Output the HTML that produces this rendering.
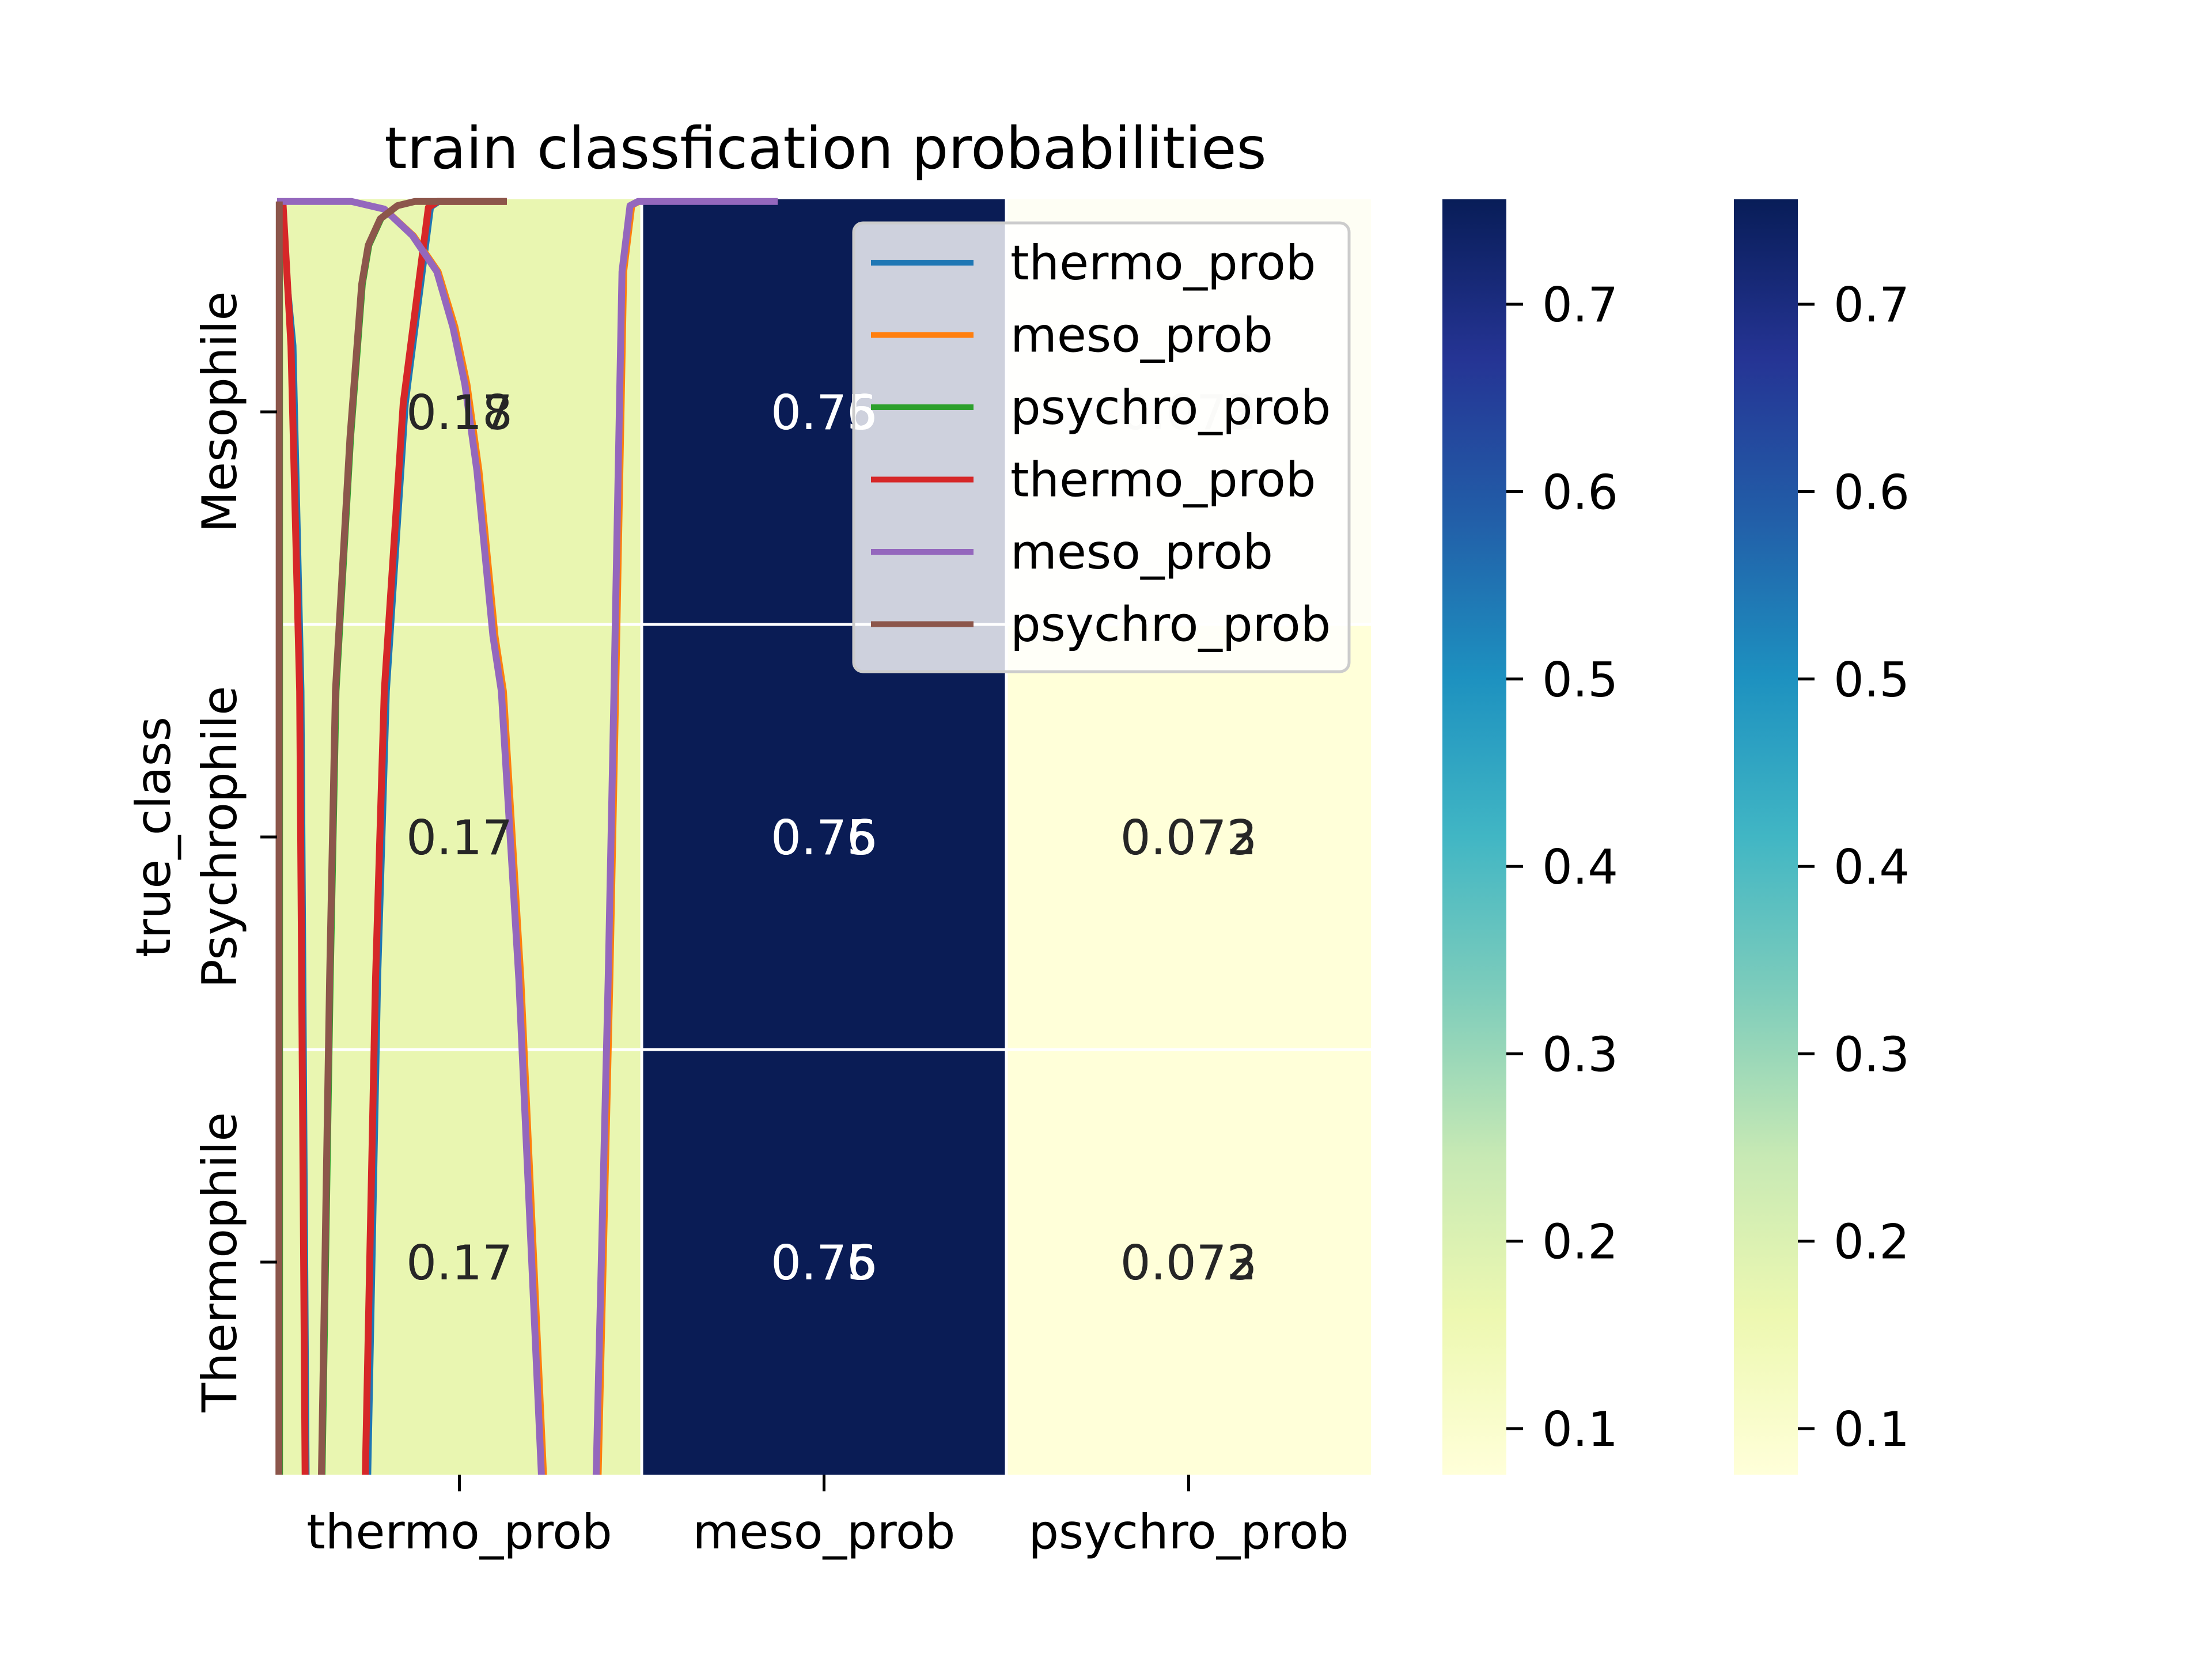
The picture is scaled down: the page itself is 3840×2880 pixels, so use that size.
<!DOCTYPE html>
<html><head><meta charset="utf-8"><style>
html,body{margin:0;padding:0;background:#fff}
svg{display:block;font-family:"DejaVu Sans","Liberation Sans",sans-serif}
</style></head><body>
<svg id="chart" width="3840" height="2880" viewBox="0 0 3840 2880" xmlns="http://www.w3.org/2000/svg">
<defs>
<clipPath id="clipAx"><rect x="470" y="338" width="1930" height="2222"/></clipPath>
<linearGradient id="cbgrad" x1="0" y1="1" x2="0" y2="0"></linearGradient>
</defs>
<rect width="3840" height="2880" fill="#fff"/>
<text x="1433" y="292" font-size="100" text-anchor="middle">train classfication probabilities</text>
<g id="cells"></g>
<g id="lines" clip-path="url(#clipAx)"></g>
<g id="annots"></g>
<g id="axes"></g>
<g id="legend"></g>
<g id="cbars"></g>
</svg>
<script>
// ---- data ----
const rowLabels = ["Mesophile","Psychrophile","Thermophile"];
const colLabels = ["thermo_prob","meso_prob","psychro_prob"];
const cellValuesA = [[0.17,0.75,0.073],[0.17,0.75,0.073],[0.17,0.75,0.073]];
const cellTextA = [["0.17","0.75","0.073"],["0.17","0.75","0.073"],["0.17","0.75","0.073"]];
const cellTextB = [["0.18","0.76","0.072"],["0.17","0.76","0.072"],["0.17","0.76","0.072"]];
const cbTicks = [0.1,0.2,0.3,0.4,0.5,0.6,0.7];
const vmin = 0.0754, vmax = 0.756;
const seriesNames = ["thermo_prob","meso_prob","psychro_prob","thermo_prob","meso_prob","psychro_prob"];
const seriesColors = ["#1f77b4","#ff7f0e","#2ca02c","#d62728","#9467bd","#8c564b"];
// traced line points, x in heatmap column units, y in heatmap row units
const seriesX = [
 [0.012,0.03,0.046,0.068,0.082,0.084,0.245,0.251,0.278,0.302,0.354,0.423,0.447,0.63],
 [0.0,0.204,0.298,0.376,0.444,0.49,0.523,0.556,0.6,0.623,0.671,0.733,0.741,0.875,0.883,0.915,0.931,0.953,0.975,0.997,1.373],
 [0.009,0.009,0.122,0.148,0.164,0.204,0.236,0.254,0.287,0.334,0.382,0.63],
 [0.016,0.038,0.062,0.077,0.079,0.237,0.242,0.27,0.294,0.346,0.415,0.44,0.63],
 [0.0,0.204,0.294,0.371,0.438,0.482,0.515,0.548,0.592,0.615,0.663,0.725,0.733,0.867,0.875,0.908,0.924,0.946,0.968,0.99,1.373],
 [0.006,0.005,0.118,0.144,0.16,0.2,0.232,0.25,0.283,0.33,0.378,0.63]
];
const seriesY = [
 [0.005,0.2,0.344,1.157,3.0,3.19,3.19,3.0,1.835,1.157,0.48,0.019,0.005,0.005],
 [0.005,0.005,0.023,0.085,0.17,0.3,0.435,0.638,1.027,1.157,1.835,3.0,3.19,3.19,3.0,1.835,1.157,0.17,0.015,0.005,0.005],
 [0.005,3.19,3.19,1.835,1.157,0.56,0.2,0.108,0.046,0.015,0.005,0.005],
 [0.005,0.344,1.157,3.0,3.19,3.19,3.0,1.835,1.157,0.48,0.019,0.005,0.005],
 [0.005,0.005,0.023,0.085,0.17,0.3,0.435,0.638,1.027,1.157,1.835,3.0,3.19,3.19,3.0,1.835,1.157,0.17,0.015,0.005,0.005],
 [0.005,3.19,3.19,1.835,1.157,0.56,0.2,0.108,0.046,0.015,0.005,0.005]
];
// ---- layout ----
const NS="http://www.w3.org/2000/svg";
const X0=481, Y0=346, CW=633, RH=738;
const xs = v => X0 + v*CW;
const ys = v => Y0 + v*RH;
const CB1=2504, CB2=3010, CBW=111, CBT=346, CBB=2560;
const cbY = v => CBB - (v-vmin)/(vmax-vmin)*(CBB-CBT);
const stops=["#ffffd9","#edf8b1","#c7e9b4","#7fcdbb","#41b6c4","#1d91c0","#225ea8","#253494","#081d58"];
function hex(h){return [1,3,5].map(i=>parseInt(h.substr(i,2),16));}
function cmap(v){let t=Math.max(0,Math.min(1,(v-vmin)/(vmax-vmin)))*(stops.length-1);let i=Math.min(Math.floor(t),stops.length-2),f=t-i;const a=hex(stops[i]),b=hex(stops[i+1]);return "rgb("+a.map((c,k)=>Math.round(c+(b[k]-c)*f)).join(",")+")";}
function mk(tag,attrs,parent,text){const e=document.createElementNS(NS,tag);for(const k in attrs)e.setAttribute(k,attrs[k]);if(text!==undefined)e.textContent=text;parent.appendChild(e);return e;}
const cells=document.getElementById('cells'), annots=document.getElementById('annots'), axes=document.getElementById('axes');
for(let r=0;r<3;r++)for(let c=0;c<3;c++){
  let fill=cmap(cellValuesA[r][c]);
  if(c===1) fill='#0a1c55';
  if(r===0&&c===2) fill='#fefef4';
  const rc=mk('rect',{x:xs(c),y:ys(r),width:CW,height:RH,fill:fill},cells);
  
  
}
for(let r=1;r<3;r++){const l=mk('line',{x1:X0,x2:xs(3),y1:ys(r),y2:ys(r),stroke:'#fff','stroke-width':5},cells);
  
  }
for(let c=1;c<3;c++){const l=mk('line',{x1:xs(c),x2:xs(c),y1:Y0,y2:ys(3),stroke:'#fff','stroke-width':5},cells);
  
  }
// lines
const lg=document.getElementById('lines');
for(let s=0;s<seriesX.length;s++){
  const pts=seriesX[s].map((x,i)=>xs(x).toFixed(1)+","+ys(seriesY[s][i]).toFixed(1)).join(" ");
  const p=mk('polyline',{points:pts,fill:'none',stroke:seriesColors[s],'stroke-width':s>=3?12:9,'stroke-linejoin':'round'},lg);
  
  
}
// annotations
for(let r=0;r<3;r++)for(let c=0;c<3;c++){
  let col = c===1?'#ffffff':'#262626';
  if(r===0&&c===2) col='#e4e4dc';
  [cellTextA,cellTextB].forEach(arr=>{
    const t=mk('text',{x:xs(c+0.5),y:ys(r+0.5)+30,'font-size':83,'text-anchor':'middle',fill:col},annots,arr[r][c]);
    
    
  });
}
// axes ticks
for(let r=0;r<3;r++){
  const y=ys(r+0.5);
  const tk=mk('line',{x1:X0-29,x2:X0,y1:y,y2:y,stroke:'#000','stroke-width':5},axes);
  
  
  const t=mk('text',{x:0,y:0,'font-size':83,'text-anchor':'middle',transform:`translate(410,${y}) rotate(-90)`},axes,rowLabels[r]);
  
  
}
for(let c=0;c<3;c++){
  const x=xs(c+0.5);
  const tk=mk('line',{x1:x,x2:x,y1:ys(3),y2:ys(3)+29,stroke:'#000','stroke-width':5},axes);
  
  
  const t=mk('text',{x:x,y:2688,'font-size':83,'text-anchor':'middle'},axes,colLabels[c]);
  
  
}
const yt=mk('text',{x:0,y:0,'font-size':83,'text-anchor':'middle',transform:'translate(295,1453) rotate(-90)'},axes,'true_class');


// legend
const leg=document.getElementById('legend');
const lb=mk('rect',{x:1482,y:387,width:860,height:779,rx:16,fill:'rgba(255,255,255,0.8)',stroke:'#cccccc','stroke-width':5},leg);


for(let s=0;s<seriesNames.length;s++){
  const y=456+s*125.5;
  const l=mk('line',{x1:1512,x2:1690,y1:y,y2:y,stroke:seriesColors[s],'stroke-width':10},leg);
  
  
  const t=mk('text',{x:1754,y:y+29,'font-size':83},leg,seriesNames[s]);
  
  
}
// colorbars
const grad=document.getElementById('cbgrad');
stops.forEach((c,i)=>mk('stop',{offset:(i/(stops.length-1)),'stop-color':c},grad));
const cbg=document.getElementById('cbars');
[CB1,CB2].forEach((cx,k)=>{
  const r=mk('rect',{x:cx,y:CBT,width:CBW,height:CBB-CBT,fill:'url(#cbgrad)'},cbg);
  
  
  cbTicks.forEach(v=>{
    const y=cbY(v);
    const tk=mk('line',{x1:cx+CBW,x2:cx+CBW+29,y1:y,y2:y,stroke:'#000','stroke-width':5},cbg);
    
    
    const t=mk('text',{x:cx+CBW+62,y:y+30,'font-size':83},cbg,v.toFixed(1));
    
    
  });
});
</script>
</body></html>
